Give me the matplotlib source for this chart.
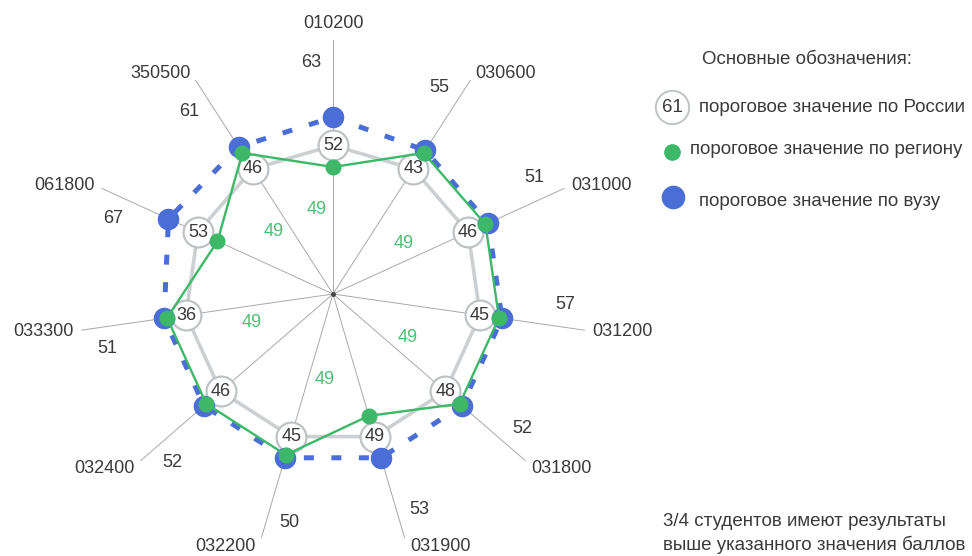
import numpy as np
import matplotlib.pyplot as plt

plt.rcParams['font.family'] = ['Liberation Sans', 'DejaVu Sans']

# направления подготовки (по часовой стрелке от верха)
codes = ["010200", "030600", "031000", "031200", "031800", "031900",
         "032200", "032400", "033300", "061800", "350500"]
# пороговые значения
russia = [52, 43, 46, 45, 48, 49, 45, 46, 36, 53, 46]
region = [49, 49, 49, 49, 49, 49, 49, 49, 49, 49, 49]
university = [63, 55, 51, 57, 52, 53, 50, 52, 51, 67, 61]

BLUE = "#4a6ed6"
GREEN = "#3cb868"
GREEN_TXT = "#52bd78"
GREY = "#ccd0d3"
TEXT = "#3a3a3a"

# схема: радиус не пропорционален баллам
R_RUS = 0.585


def r_region(reg, rus):
    # внутри кольца, если не выше порога по России
    return 0.50 if reg <= rus else 0.66


def r_univ(u):
    return 0.672 + 0.004 * max(u - 57, 0)


n = len(codes)
theta = np.arange(n) * 2 * np.pi / n
tc = np.append(theta, theta[0])

r_rus = [R_RUS for _ in russia]
r_reg = [r_region(g, r) for g, r in zip(region, russia)]
r_uni = [r_univ(u) for u in university]

fig = plt.figure(figsize=(9.72, 5.56), dpi=100)
ax = fig.add_axes([79 / 972, 8 / 556, 508 / 972, 508 / 556], projection="polar")
ax.set_theta_zero_location("N")
ax.set_theta_direction(-1)
ax.set_ylim(0, 1)
ax.axis("off")

# лучи
for t in theta:
    ax.plot([t, t], [0, 1], color="#a9a9a9", lw=0.7, zorder=1, clip_on=False)
ax.plot([0], [0], "o", ms=2.5, color="#444444", zorder=1)

# Россия
ax.plot(tc, np.append(r_rus, r_rus[0]), color=GREY, lw=2.6, zorder=2)
ax.plot(theta, r_rus, "o", ms=21.5, mfc="white", mec="#bfc3c6", mew=1.6, zorder=3)
for t, r, v in zip(theta, r_rus, russia):
    ax.text(t, r, str(v), ha="center", va="center", fontsize=13, color=TEXT, zorder=3.5)

# вуз
ax.plot(tc, np.append(r_uni, r_uni[0]), color=BLUE, lw=3.6, ls=(0, (2, 3.5)),
        dash_capstyle="butt", zorder=4, clip_on=False)
ax.plot(theta, r_uni, "o", ms=14.5, color=BLUE, zorder=5, clip_on=False)

# регион
ax.plot(tc, np.append(r_reg, r_reg[0]), color=GREEN, lw=1.7, zorder=6, clip_on=False)
ax.plot(theta, r_reg, "o", ms=10.5, color=GREEN, zorder=7, clip_on=False)

# подписи направлений
for t, code in zip(theta, codes):
    phi = np.pi / 2 - t
    c, s = np.cos(phi), np.sin(phi)
    ha = "left" if c > 0.1 else ("right" if c < -0.1 else "center")
    va = "bottom" if s > 0.9 else ("top" if s < -0.5 else "center")
    dx = 6 * c if abs(c) > 0.5 else 4 * np.sign(c) * (abs(c) > 0.1)
    dy = 0 if va == "top" else 6 * s
    ax.annotate(code, xy=(t, 1.0), xytext=(dx, dy), textcoords="offset points",
                ha=ha, va=va, fontsize=13, color=TEXT)

# значения по вузу
for t, v in zip(theta, university):
    ax.text(t - np.deg2rad(5.5), 0.915, str(v), ha="center", va="center",
            fontsize=13, color=TEXT)

# значения по региону (через луч)
for i in range(0, n, 2):
    ax.text(theta[i] - np.deg2rad(11), 0.34, str(region[i]), ha="center",
            va="center", fontsize=13, color=GREEN_TXT)

# легенда
lax = fig.add_axes([0, 0, 1, 1])
lax.set_xlim(0, 972)
lax.set_ylim(556, 0)
lax.axis("off")

lax.text(702, 60, "Основные обозначения:", ha="left", va="center", fontsize=13.5, color=TEXT)
lax.plot([672], [107], "o", ms=24, mfc="white", mec="#bfc3c6", mew=1.4)
lax.text(672, 107, "61", ha="center", va="center", fontsize=13.5, color=TEXT)
lax.text(699, 107, "пороговое значение по России", ha="left", va="center",
         fontsize=13.5, color=TEXT)
lax.plot([672], [152], "o", ms=11, color=GREEN)
lax.text(690, 150, "пороговое значение по региону", ha="left", va="center",
         fontsize=13.5, color=TEXT)
lax.plot([673], [197], "o", ms=16, color=BLUE)
lax.text(699, 202, "пороговое значение по вузу", ha="left", va="center",
         fontsize=13.5, color=TEXT)

lax.text(663, 522, "3/4 студентов имеют результаты", ha="left", va="center",
         fontsize=13.5, color=TEXT)
lax.text(663, 545, "выше указанного значения баллов", ha="left", va="center",
         fontsize=13.5, color=TEXT)

fig.savefig("out.png", dpi=100)
